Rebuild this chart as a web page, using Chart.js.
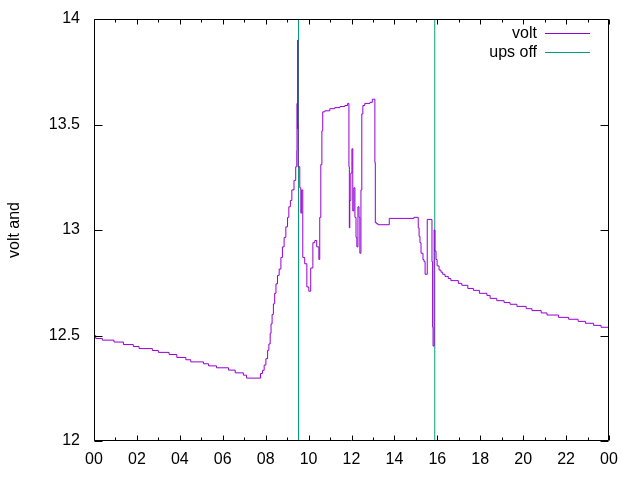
<!DOCTYPE html>
<html>
<head>
<meta charset="utf-8">
<script src="https://cdn.jsdelivr.net/npm/chart.js@4"></script>
<style>
    html, body { margin: 0; padding: 0; background: #fff; }
    canvas { display: block; }
</style>
</head>
<body>
<canvas id="voltChart" width="640" height="480"></canvas>
<script>
// ===== DATA =====
// time of day in hours, and battery voltage starting at that time (step plot)
const hours = [
    0.00, 0.08, 0.39, 0.93, 1.37, 1.83, 2.10, 2.72, 3.00, 3.50,
    3.86, 4.28, 4.51, 5.10, 5.34, 5.71, 6.27, 6.58, 6.96, 7.11,
    7.76, 7.85, 7.93, 8.01, 8.09, 8.15, 8.21, 8.25, 8.30, 8.36,
    8.42, 8.48, 8.55, 8.63, 8.71, 8.78, 8.86, 8.94, 9.02, 9.08,
    9.15, 9.22, 9.32, 9.40, 9.45, 9.46, 9.48, 9.49, 9.50, 9.51,
    9.54, 9.59, 9.64, 9.68, 9.73, 9.82, 9.92, 10.01, 10.10,
    10.20, 10.29, 10.38, 10.48, 10.52, 10.57, 10.62, 10.66, 10.76, 10.99,
    11.22, 11.46, 11.69, 11.82, 11.88, 11.90, 11.92, 11.97, 12.02, 12.06,
    12.11, 12.16, 12.21, 12.25, 12.30, 12.35, 12.39, 12.44, 12.48, 12.53,
    12.62, 12.86, 12.97, 13.09, 13.11, 13.16, 13.23, 13.76, 14.91, 15.11,
    15.15, 15.19, 15.24, 15.33, 15.38, 15.43, 15.53, 15.75, 15.78, 15.80,
    15.85, 15.89, 15.94, 15.99, 16.08, 16.17, 16.25, 16.36, 16.51, 16.63,
    16.78, 16.98, 17.14, 17.42, 17.68, 17.96, 18.31, 18.46, 18.77, 19.11,
    19.39, 19.71, 20.14, 20.41, 20.84, 21.11, 21.65, 22.12, 22.56, 22.90,
    23.28, 23.63, 24.00
];
const volts = [
    12.50, 12.486, 12.478, 12.469, 12.457, 12.448, 12.438, 12.429, 12.42, 12.41,
    12.396, 12.385, 12.375, 12.366, 12.356, 12.347, 12.336, 12.323, 12.312, 12.298,
    12.32, 12.335, 12.36, 12.39, 12.43, 12.46, 12.51, 12.555, 12.60, 12.65,
    12.70, 12.745, 12.785, 12.815, 12.87, 12.92, 12.965, 13.015, 13.06, 13.11,
    13.14, 13.19, 13.235, 13.30, 13.375, 13.60, 13.48, 13.90, 13.50, 13.30,
    13.30, 13.20, 13.08, 13.19, 12.87, 12.84, 12.73, 12.71, 12.82,
    12.94, 12.95, 12.92, 12.86, 13.06, 13.31, 13.47, 13.56, 13.565, 13.575,
    13.58, 13.585, 13.59, 13.60, 13.30, 13.01, 13.14, 13.27, 13.385, 13.09,
    13.20, 13.06, 12.965, 12.92, 13.11, 13.06, 12.89, 13.19, 13.55, 13.59,
    13.60, 13.605, 13.62, 13.32, 13.035, 13.03, 13.025, 13.055, 13.06, 13.01,
    12.97, 12.94, 12.89, 12.86, 12.85, 12.79, 13.05, 12.85, 12.54, 12.45,
    13.00, 12.90, 12.86, 12.83, 12.81, 12.80, 12.79, 12.78, 12.77, 12.76,
    12.76, 12.747, 12.738, 12.723, 12.714, 12.70, 12.69, 12.676, 12.665, 12.656,
    12.648, 12.638, 12.627, 12.618, 12.607, 12.597, 12.586, 12.577, 12.567, 12.558,
    12.548, 12.539, 12.539
];
// times when the ups was switched off
const upsOffHours = [9.53, 15.88];

const xTicks = [0, 2, 4, 6, 8, 10, 12, 14, 16, 18, 20, 22, 24];
const yTicks = [12, 12.5, 13, 13.5, 14];
const seriesNames = ['volt', 'ups off'];
const seriesColors = ['#9400d3', '#009e73'];

const FONT = 'Liberation Sans, Arial, sans-serif';

(function() {
    'use strict';

    const voltPoints = hours.map((h, i) => ({ x: h, y: volts[i] }));

    // vertical lines, separated by a gap point
    const upsPoints = [];
    upsOffHours.forEach((h, i) => {
        if (i > 0) upsPoints.push({ x: h, y: null });
        upsPoints.push({ x: h, y: yTicks[0] });
        upsPoints.push({ x: h, y: yTicks[yTicks.length - 1] });
    });

    // gnuplot style frame with inward ticks on all four sides
    const frameTicks = {
        id: 'frameTicks',
        afterDatasetsDraw(chart) {
            const { ctx, chartArea: a, scales: { x, y } } = chart;
            const L = Math.round(a.left) + 0.5;
            const R = Math.round(a.right) - 0.5;
            const T = Math.round(a.top) + 0.5;
            const B = Math.round(a.bottom) - 0.5;
            ctx.save();
            ctx.strokeStyle = '#000';
            ctx.lineWidth = 1;
            ctx.beginPath();
            ctx.rect(L, T, R - L, B - T);

            for (let h = 0; h <= 24; h++) {
                const px = Math.round(x.getPixelForValue(h)) + 0.5;
                const len = h % 2 === 0 ? 5 : 3;
                ctx.moveTo(px, B); ctx.lineTo(px, B - len);
                ctx.moveTo(px, T); ctx.lineTo(px, T + len);
            }
            yTicks.forEach(v => {
                const py = Math.round(y.getPixelForValue(v)) + 0.5;
                ctx.moveTo(L, py); ctx.lineTo(L + 8, py);
                ctx.moveTo(R, py); ctx.lineTo(R - 8, py);
            });
            ctx.stroke();

            // legend, top right: text then line sample
            ctx.font = '16px ' + FONT;
            ctx.textAlign = 'right';
            ctx.textBaseline = 'middle';
            seriesNames.forEach((name, i) => {
                const ly = Math.round(a.top + 14 + i * 19) + 0.5;
                ctx.fillStyle = '#000';
                ctx.fillText(name, a.right - 72, ly);
                ctx.strokeStyle = seriesColors[i];
                ctx.beginPath();
                ctx.moveTo(a.right - 64, ly);
                ctx.lineTo(a.right - 19, ly);
                ctx.stroke();
            });
            ctx.restore();
        }
    };

    const canvas = document.getElementById('voltChart');
    new Chart(canvas, {
        type: 'line',
        data: {
            datasets: [{
                label: seriesNames[0],
                data: voltPoints,
                borderColor: seriesColors[0],
                borderWidth: 1,
                pointRadius: 0,
                stepped: true,
                fill: false
            }, {
                label: seriesNames[1],
                data: upsPoints,
                borderColor: seriesColors[1],
                borderWidth: 1,
                pointRadius: 0,
                spanGaps: false,
                fill: false
            }]
        },
        options: {
            responsive: false,
            animation: false,
            devicePixelRatio: 1,
            layout: {
                padding: { left: 0, right: 31, top: 19, bottom: 0 }
            },
            plugins: {
                legend: { display: false },
                tooltip: { enabled: false }
            },
            scales: {
                x: {
                    type: 'linear',
                    min: xTicks[0],
                    max: xTicks[xTicks.length - 1],
                    grid: { display: false, drawTicks: false },
                    border: { display: false },
                    afterBuildTicks: scale => {
                        scale.ticks = xTicks.map(v => ({ value: v }));
                    },
                    afterFit: scale => {
                        scale.height = 39;
                        scale.paddingLeft = 0;
                        scale.paddingRight = 0;
                    },
                    ticks: {
                        padding: 9,
                        maxRotation: 0,
                        autoSkip: false,
                        color: '#000',
                        font: { family: FONT, size: 16 },
                        callback: v => String(v % 24).padStart(2, '0')
                    }
                },
                y: {
                    type: 'linear',
                    min: yTicks[0],
                    max: yTicks[yTicks.length - 1],
                    grid: { display: false, drawTicks: false },
                    border: { display: false },
                    afterBuildTicks: scale => {
                        scale.ticks = yTicks.map(v => ({ value: v }));
                    },
                    afterFit: scale => {
                        scale.width = 94;
                        scale.paddingTop = 0;
                        scale.paddingBottom = 0;
                    },
                    title: {
                        display: true,
                        text: 'volt and',
                        color: '#000',
                        font: { family: FONT, size: 16 },
                        padding: { top: 5, bottom: 0 }
                    },
                    ticks: {
                        padding: 14,
                        color: '#000',
                        font: { family: FONT, size: 16 },
                        callback: v => String(v)
                    }
                }
            }
        },
        plugins: [frameTicks]
    });
})();
</script>
</body>
</html>
